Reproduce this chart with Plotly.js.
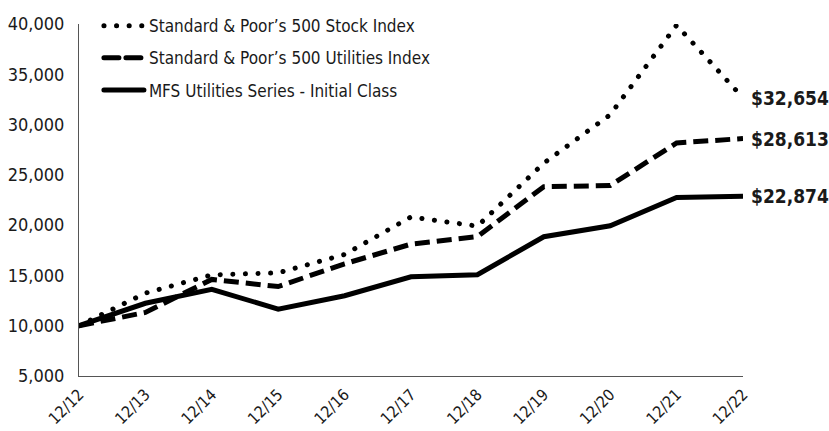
<!DOCTYPE html>
<html><head><meta charset="utf-8">
<script src="https://cdn.plot.ly/plotly-3.0.1.min.js"></script>
<style>
html,body{margin:0;padding:0;background:#fff;}
#chart .scatterlayer .trace:nth-child(1) .js-line{stroke-linecap:round;}
#chart .legend .traces:nth-child(1) .js-line{stroke-linecap:round;}
</style>
</head><body>
<div id="chart" style="width:829px;height:431px;"></div>
<script>
const categories = ["12/12","12/13","12/14","12/15","12/16","12/17","12/18","12/19","12/20","12/21","12/22"];
const sp500 = [10000,13239,15051,15259,17084,20814,19902,26169,30984,39880,32654];
const spUtilities = [10000,11321,14602,13894,16157,18114,18858,23827,23941,28171,28613];
const mfsUtilities = [10000,12230,13620,11650,12980,14870,15070,18850,19940,22760,22874];
const seriesNames = ["Standard & Poor\u2019s 500 Stock Index","Standard & Poor\u2019s 500 Utilities Index","MFS Utilities Series - Initial Class"];
const yTicks = [5000,10000,15000,20000,25000,30000,35000,40000];

const FONT = "'DejaVu Sans Condensed','Liberation Sans Narrow',sans-serif";
const fmt = v => v.toLocaleString('en-US');

const traces = [
  {x:categories, y:sp500, name:seriesNames[0], legendgroup:'a', mode:'lines', line:{color:'#000', width:5, dash:'0.1px,12.5px'}},
  {x:categories, y:spUtilities, name:seriesNames[1], legendgroup:'b', mode:'lines', line:{color:'#000', width:5, dash:'15px,7px'}},
  {x:categories, y:mfsUtilities, name:seriesNames[2], legendgroup:'c', mode:'lines', line:{color:'#000', width:5}}
];
const series = [sp500, spUtilities, mfsUtilities];
const annotations = series.map(s => ({
  x: categories[categories.length-1], y: s[s.length-1], xref:'x', yref:'y',
  text: '$' + fmt(s[s.length-1]), showarrow:false, xanchor:'left', yanchor:'middle', xshift:6,
  font:{family:FONT, size:19, color:'#1a1a1a', weight:'bold'}
}));

const layout = {
  width:829, height:431,
  margin:{l:79, r:86, t:24, b:55, autoexpand:false},
  paper_bgcolor:'#fff', plot_bgcolor:'#fff',
  showlegend:true,
  legend:{x:0.03, y:1.045, xanchor:'left', yanchor:'top', bgcolor:'rgba(0,0,0,0)',
          font:{family:FONT, size:17, color:'#1a1a1a'}, tracegroupgap:7, itemwidth:40},
  xaxis:{type:'category', range:[0, categories.length-1], showgrid:false, zeroline:false,
         showline:true, linecolor:'#555', linewidth:1, ticks:'', tickangle:-45, ticklabelstandoff:2,
         tickfont:{family:FONT, size:16, color:'#1a1a1a'}},
  yaxis:{range:[5000,40000], tickvals:yTicks, ticktext:yTicks.map(fmt), showgrid:false, zeroline:false,
         showline:true, linecolor:'#555', linewidth:1, ticks:'', ticklabelstandoff:10,
         tickfont:{family:FONT, size:18, color:'#1a1a1a'}},
  annotations: annotations
};
Plotly.newPlot('chart', traces, layout, {displayModeBar:false, staticPlot:true});
</script>
</body></html>
